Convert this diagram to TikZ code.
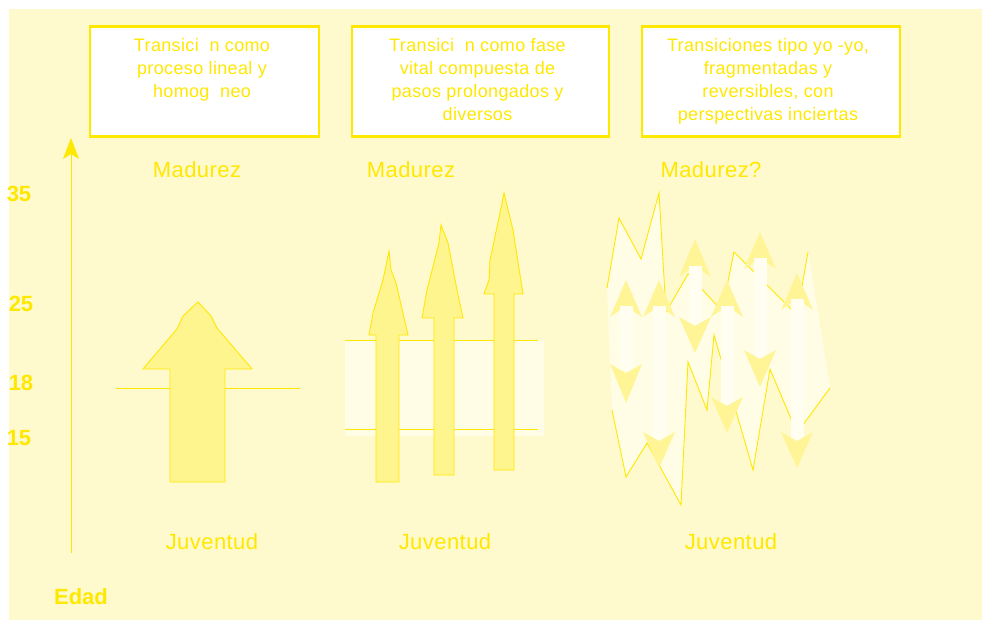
\documentclass[tikz,border=0pt]{standalone}
\usepackage{fontspec}
\setmainfont{Liberation Sans}
\newfontfamily\spaced{Liberation Sans}[LetterSpace=2]
\usetikzlibrary{arrows.meta}
\definecolor{pagebg}{RGB}{255,250,205}
\definecolor{ink}{RGB}{255,232,0}
\definecolor{arrowfill}{RGB}{255,245,143}
\definecolor{pale}{RGB}{255,253,230}
\definecolor{shaftwhite}{RGB}{255,254,240}
\definecolor{headfill}{RGB}{255,245,150}
\tikzset{
  caption/.style={draw=ink, line width=2.6pt, fill=white, inner sep=0pt},
  boxtext/.style={text=ink, font=\spaced\fontsize{18}{23}\selectfont, align=center, inner sep=0pt, anchor=north},
  stagelabel/.style={text=ink, font=\spaced\fontsize{22}{26}\selectfont, inner sep=0pt},
  agelabel/.style={text=ink, font=\bfseries\fontsize{22}{26}\selectfont, inner sep=0pt},
  bigarrow/.style={fill=arrowfill, draw=ink, line width=0.9pt, line join=miter},
  guide/.style={draw=ink, line width=0.9pt},
  jag/.style={draw=ink, line width=0.9pt, line join=miter},
}
\begin{document}
\begin{tikzpicture}[x=1pt,y=-1pt]
\useasboundingbox (0,0) rectangle (982,620);
% page
\fill[white] (0,0) rectangle (982,620);
\fill[pagebg] (9,9) rectangle (982,620);

% caption boxes
\node[caption, minimum width=229pt, minimum height=110pt] (box1) at (204.5,81.7) {};
\node[caption, minimum width=257pt, minimum height=110pt] (box2) at (480.3,81.7) {};
\node[caption, minimum width=258pt, minimum height=110pt] (box3) at (771,81.7) {};
\node[boxtext] (txt1) at (202,38.5) {Transici\ \ n como\\proceso lineal y\\homog\ \ neo};
\node[boxtext] (txt2) at (477.5,38.5) {Transici\ \ n como fase\\vital compuesta de\\pasos prolongados y\\diversos};
\node[boxtext] (txt3) at (768,38.5) {Transiciones tipo yo -yo,\\fragmentadas y\\reversibles, con\\perspectivas inciertas};

% age axis
\coordinate (axisfoot) at (71,553);
\coordinate (axishead) at (71,138);
\draw[guide, -{Stealth[length=21pt, width=16pt, inset=5pt]}] (axisfoot) -- (axishead);
\node[agelabel] (a35) at (19,194) {35};
\node[agelabel] (a25) at (21,304) {25};
\node[agelabel] (a18) at (21,383) {18};
\node[agelabel] (a15) at (19,438) {15};
\node[agelabel] (edad) at (81,597) {Edad};

% stage labels
\node[stagelabel] (mad1) at (197,170) {Madurez};
\node[stagelabel] (mad2) at (411,170) {Madurez};
\node[stagelabel] (mad3) at (711,170) {Madurez?};
\node[stagelabel] (juv1) at (212,542) {Juventud};
\node[stagelabel] (juv2) at (445,542) {Juventud};
\node[stagelabel] (juv3) at (731,542) {Juventud};

% linear transition: one broad arrow across age 18
\draw[guide] (116,388) -- (300,388);
\draw[bigarrow] (170,482) -- (170,369) -- (143,369) -- (177,329) -- (183,316) -- (198,302)
  -- (211,316) -- (217,328) -- (252,369) -- (225,369) -- (225,482) -- cycle;

% prolonged transition: band 15-25 and three slender arrows
\fill[pale] (345,340) rectangle (544,436);
\draw[guide] (345,340) -- (538,340);
\draw[guide] (345,429) -- (538,429);
\draw[bigarrow] (376,482) -- (376,335) -- (369,335) -- (373,313) -- (383,280) -- (389,251)
  -- (391,270) -- (396,283) -- (408,335) -- (399,335) -- (399,482) -- cycle;
\draw[bigarrow] (434,475) -- (434,318) -- (422,318) -- (427,290) -- (439,243) -- (441,225)
  -- (448,243) -- (457,290) -- (463,318) -- (454,318) -- (454,475) -- cycle;
\draw[bigarrow] (494,470) -- (494,294) -- (484,294) -- (489,280) -- (490,260) -- (500,213)
  -- (504,193) -- (513,230) -- (523,294) -- (514,294) -- (514,470) -- cycle;

% yo-yo transitions: jagged field with up/down arrows
\fill[pale] (607,288) -- (619,218) -- (641,259) -- (659,193) -- (666,312) -- (688,274)
  -- (722,311) -- (734,252) -- (797,315) -- (808,252) -- (830,388) -- (797,433) -- (770,369)
  -- (753,470) -- (714,335) -- (707,410) -- (688,362) -- (681,505) -- (647,443) -- (626,477)
  -- (612,410) -- cycle;
\draw[jag] (607,288) -- (619,218) -- (641,259) -- (659,193) -- (666,312) -- (688,274)
  -- (722,311) -- (734,252) -- (797,315) -- (808,252);
\draw[jag] (830,388) -- (797,433) -- (770,369) -- (753,470) -- (714,335) -- (707,410)
  -- (688,362) -- (681,505) -- (647,443) -- (626,477) -- (612,410);
\foreach \cx/\ut/\ub/\db/\dt in {626/280/317/364/403, 659/280/317/432/468,
    695/239/277/317/353, 727/280/317/397/433, 760/232/269/350/387, 797/273/310/432/468} {
  \fill[headfill] (\cx,\ut) -- (\cx+16,\ub) -- (\cx,\ub-11) -- (\cx-16,\ub) -- cycle;
  \fill[shaftwhite] (\cx-6.5,\ub-11) rectangle (\cx+6.5,\db+9);
  \fill[headfill] (\cx,\dt) -- (\cx+16,\db) -- (\cx,\db+9) -- (\cx-16,\db) -- cycle;
}
\end{tikzpicture}
\end{document}
